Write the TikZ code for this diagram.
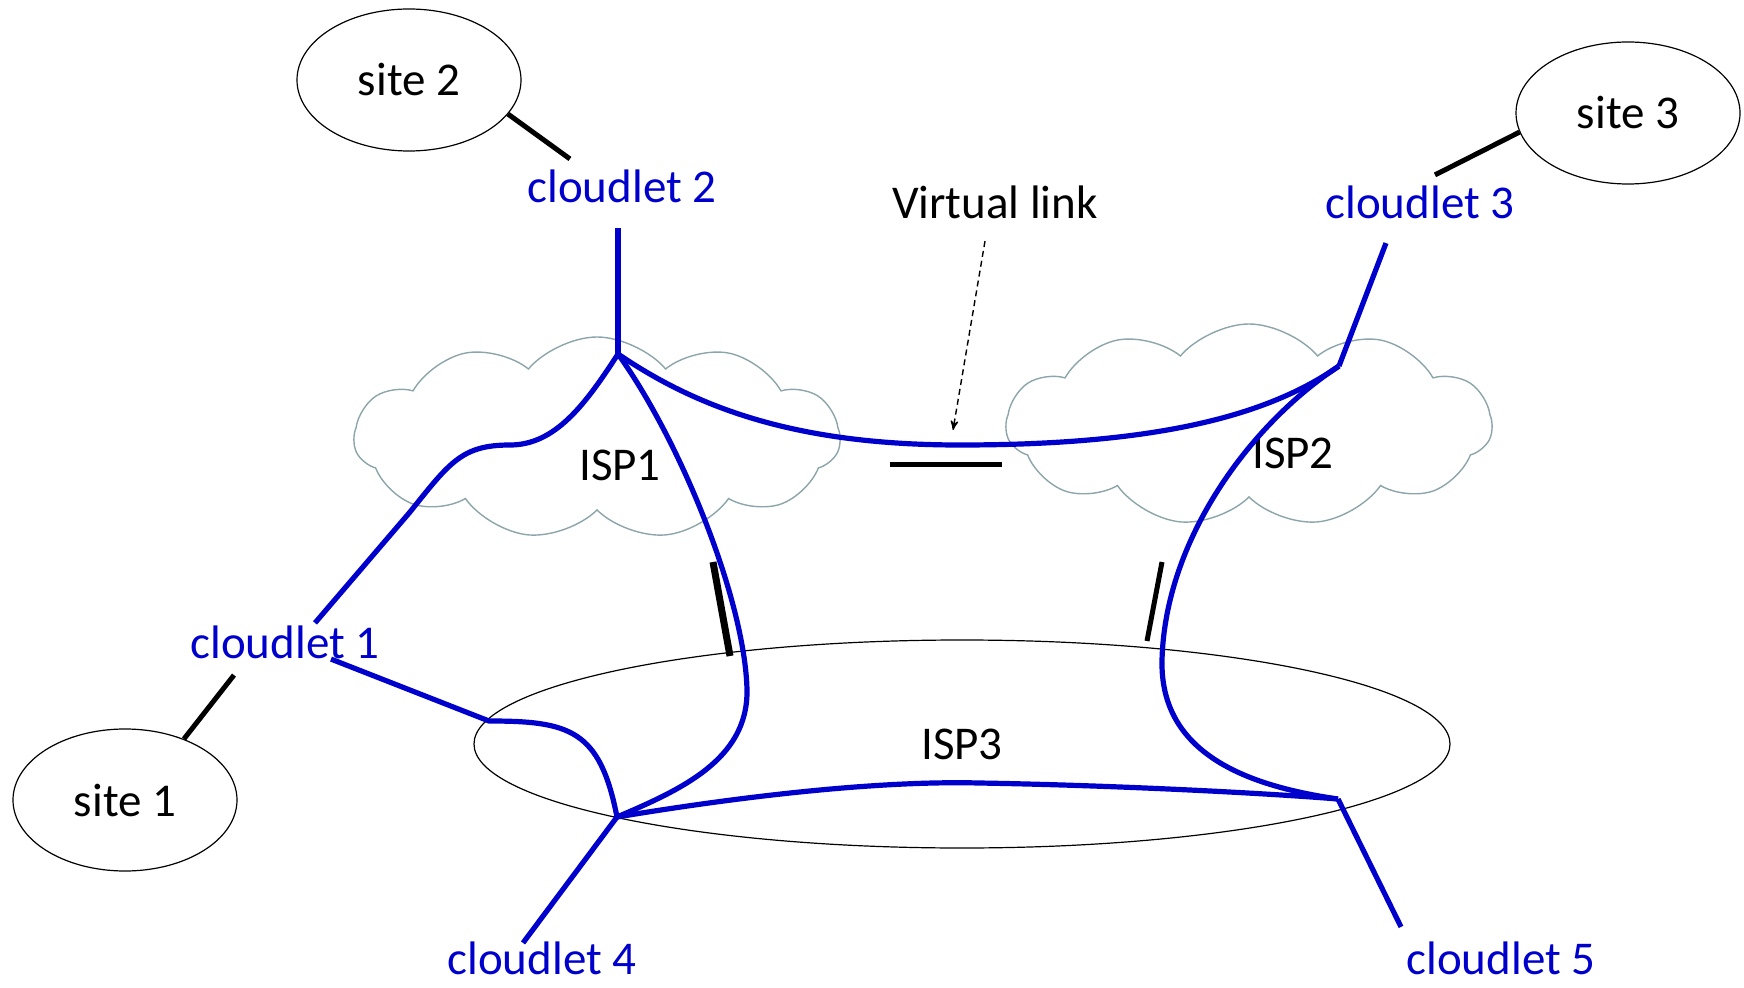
\documentclass[tikz,border=0pt]{standalone}
\usepackage{fontspec}
\setmainfont{Carlito}
\usepackage{tikz}
\usetikzlibrary{arrows, shapes.geometric, shapes.symbols, positioning, calc}
\definecolor{linkblue}{RGB}{0,0,204}
\definecolor{cloudgray}{RGB}{140,165,170}

\begin{document}
\begin{tikzpicture}[x=0.5pt, y=-0.5pt, >=stealth', semithick]
    \tikzstyle{every node}=[font=\fontsize{23.5}{28}\selectfont, inner sep=0pt]
    \tikzstyle{site}=[shape=ellipse, draw=black, line width=0.6pt, minimum width=112pt, minimum height=71pt]
    \tikzstyle{ispcloud}=[shape=cloud, cloud puffs=11, cloud puff arc=100, cloud ignores aspect, draw=cloudgray, line width=0.7pt, minimum width=243pt, minimum height=101pt]
    \tikzstyle{cloudlet}=[text=linkblue]
    \tikzstyle{blueline}=[draw=linkblue, line width=2.6pt]
    \tikzstyle{siteline}=[draw=black, line width=2.5pt]
    \tikzstyle{cut}=[draw=black, line width=2.5pt]

    \useasboundingbox (0,0) rectangle (1744,988);

    % ISP clouds and ISP3
    \node[ispcloud] (c1) at (597,438) {};
    \node[ispcloud] (c2) at (1249,425) {};
    \node (isp1) at (620,465) {ISP1};
    \node (isp2) at (1293,453) {ISP2};
    \node[shape=ellipse, draw=black, line width=0.6pt, minimum width=488pt, minimum height=104pt] (isp3) at (962,744) {ISP3};

    % sites
    \node[site] (site2) at (409,80) {site 2};
    \node[site] (site3) at (1628,113) {site 3};
    \node[site] (site1) at (125,800) {site 1};

    % cloudlets
    \node[cloudlet] (cl2) at (622,186) {cloudlet 2};
    \node[cloudlet] (cl3) at (1420,202) {cloudlet 3};
    \node[cloudlet] (cl1) at (285,642) {cloudlet 1};
    \node[cloudlet] (cl4) at (542,958) {cloudlet 4};
    \node[cloudlet] (cl5) at (1501,958) {cloudlet 5};

    \node (vlink) at (995,202) {Virtual link};

    \coordinate (hA) at (618,354);
    \coordinate (hB) at (1339,366);
    \coordinate (hC) at (617,817);
    \coordinate (hD) at (1338,799);
    \coordinate (vtip) at (953,430);

    % paths
    \draw[blueline] ($(cl2.south)+(-4,25)$) -- (hA);
    \draw[blueline] ($(cl3.south)+(-34,24)$) -- (hB);
    \draw[blueline] ($(cl4.north)+(-19,2)$) -- (hC);
    \draw[blueline] ($(cl5.north)+(-100,-14)$) -- (hD);
    \draw[blueline] ($(cl1.north)+(30,-2)$) -- (410,512) .. controls (450,462) and (462,445) .. (510,445) .. controls (555,445) and (585,405) .. (hA);
    \draw[blueline] ($(cl1.south)+(46,0)$) -- (489,721) .. controls (570,721) and (600,730) .. (hC);
    \draw[blueline] (hA) .. controls (680,440) and (745,600) .. (747,690) .. controls (748,760) and (680,790) .. (hC);
    \draw[blueline] (hA) .. controls (700,410) and (800,445) .. (960,445) .. controls (1150,445) and (1265,418) .. (hB);
    \draw[blueline] (hB) .. controls (1250,424) and (1165,540) .. (1162,660) .. controls (1160,750) and (1240,785) .. (hD);
    \draw[blueline] (hC) .. controls (780,790) and (900,781) .. (979,783) .. controls (1100,785) and (1250,792) .. (hD);

    \draw[siteline] (site2.-19) -- ($(cl2.north west)+(43,-10)$);
    \draw[siteline] (site3.190) -- ($(cl3.north)+(15,-10)$);
    \draw[siteline] (site1.46) -- ($(cl1.south)+(-51,16)$);

    % virtual link cuts
    \draw[cut] (890,465) -- (1002,465);
    \draw[cut, line width=3.5pt] (713,562) -- (730,656);
    \draw[cut] (1162,562) -- (1147,641);

    \draw[->, dash pattern=on 3pt off 2pt, line width=0.7pt] ($(vlink.south)+(-10,22)$) -- (vtip);
\end{tikzpicture}
\end{document}
